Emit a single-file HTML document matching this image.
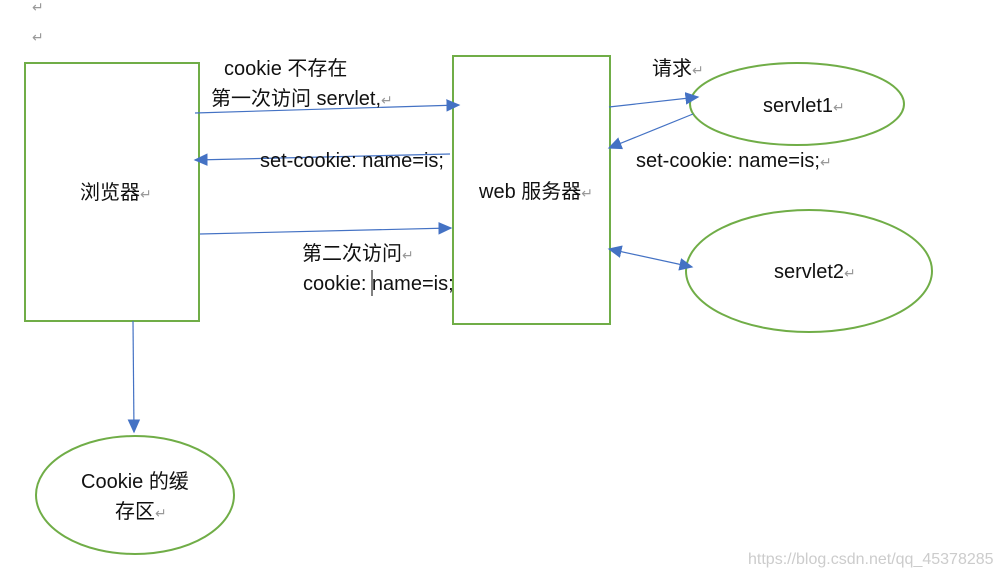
<!DOCTYPE html>
<html><head><meta charset="utf-8"><style>
body{margin:0;background:#fff}
svg text{font-family:"Liberation Sans","Noto Sans CJK SC",sans-serif;font-size:20px;fill:#111}
.r{fill:#999;font-size:14px}
</style></head><body>
<svg width="999" height="577" viewBox="0 0 999 577">
<defs><marker id="a" viewBox="0 0 10 10" refX="9" refY="5" markerWidth="14" markerHeight="14" markerUnits="userSpaceOnUse" orient="auto-start-reverse"><path d="M0,0.5L10,5L0,9.5z" fill="#4472C4"/></marker></defs>
<text x="32" y="12" class="r">↵</text><text x="32" y="42" class="r">↵</text>
<g fill="none" stroke="#70AD47" stroke-width="2">
<rect x="25" y="63" width="174" height="258"/>
<rect x="453" y="56" width="157" height="268"/>
<ellipse cx="797" cy="104" rx="107" ry="41"/>
<ellipse cx="809" cy="271" rx="123" ry="61"/>
<ellipse cx="135" cy="495" rx="99" ry="59"/>
</g>
<g stroke="#4472C4" stroke-width="1.2" fill="none">
<line x1="195" y1="113" x2="459" y2="105" marker-end="url(#a)"/>
<line x1="450" y1="154" x2="195" y2="160" marker-end="url(#a)"/>
<line x1="200" y1="234" x2="451" y2="228" marker-end="url(#a)"/>
<line x1="609" y1="107" x2="698" y2="97" marker-end="url(#a)"/>
<line x1="693" y1="114" x2="609" y2="148" marker-end="url(#a)"/>
<line x1="609" y1="249" x2="692" y2="267" marker-start="url(#a)" marker-end="url(#a)"/>
<line x1="133" y1="321" x2="134" y2="432" marker-end="url(#a)"/>
</g>
<text x="224" y="75">cookie 不存在</text>
<text x="211" y="105">第一次访问 servlet,<tspan class="r">↵</tspan></text>
<text x="260" y="167">set-cookie: name=is;</text>
<text x="80" y="199">浏览器<tspan class="r">↵</tspan></text>
<text x="479" y="198">web 服务器<tspan class="r">↵</tspan></text>
<text x="302" y="260">第二次访问<tspan class="r">↵</tspan></text>
<text x="303" y="290">cookie: name=is;</text>
<line x1="372" y1="270" x2="372" y2="296" stroke="#000" stroke-width="1"/>
<text x="652" y="75">请求<tspan class="r">↵</tspan></text>
<text x="763" y="112">servlet1<tspan class="r">↵</tspan></text>
<text x="636" y="167">set-cookie: name=is;<tspan class="r">↵</tspan></text>
<text x="774" y="278">servlet2<tspan class="r">↵</tspan></text>
<text x="81" y="488">Cookie 的缓</text>
<text x="115" y="518">存区<tspan class="r">↵</tspan></text>
<text x="748" y="564" style="font-size:16px;fill:#ccc">https://blog.csdn.net/qq_45378285</text>
</svg>
</body></html>
